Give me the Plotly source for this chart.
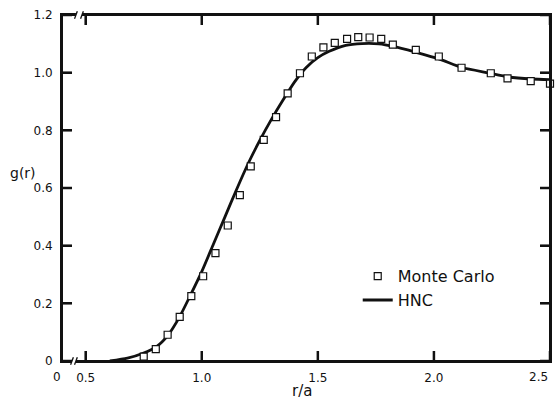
import plotly.graph_objects as go

# Monte Carlo data (r/a, g(r))
mc_r = [0.750, 0.802, 0.853, 0.905, 0.955, 1.006, 1.059, 1.112, 1.164, 1.211,
        1.267, 1.320, 1.370, 1.423, 1.474, 1.524, 1.573, 1.626, 1.674, 1.723,
        1.773, 1.823, 1.922, 2.021, 2.119, 2.245, 2.317, 2.417, 2.500]
mc_g = [0.015, 0.041, 0.091, 0.153, 0.225, 0.294, 0.374, 0.470, 0.575, 0.675,
        0.767, 0.846, 0.928, 0.998, 1.056, 1.088, 1.103, 1.117, 1.123, 1.122,
        1.117, 1.097, 1.079, 1.056, 1.017, 0.998, 0.980, 0.971, 0.962]

# HNC curve
hnc_r = [0.604, 0.680, 0.747, 0.805, 0.855, 0.905, 0.948, 1.000, 1.050, 1.100,
         1.150, 1.200, 1.250, 1.300, 1.350, 1.400, 1.450, 1.500, 1.549, 1.620,
         1.691, 1.763, 1.827, 1.921, 2.021, 2.121, 2.235, 2.321, 2.421, 2.500]
hnc_g = [0.000, 0.010, 0.027, 0.050, 0.090, 0.154, 0.223, 0.310, 0.405, 0.500,
         0.595, 0.685, 0.765, 0.838, 0.905, 0.968, 1.018, 1.052, 1.074, 1.095,
         1.101, 1.100, 1.091, 1.071, 1.048, 1.018, 0.999, 0.985, 0.978, 0.976]

x_ticks = [0.5, 1.0, 1.5, 2.0, 2.5]
x_ticktext = ["0.5", "1.0", "1.5", "2.0", ""]   # "2.5" drawn right-aligned below
x_last_label = "2.5"
y_ticks = [0, 0.2, 0.4, 0.6, 0.8, 1.0, 1.2]
y_ticktext = ["0", "0.2", "0.4", "0.6", "0.8", "1.0", "1.2"]

X_MIN, X_MAX = 0.398, 2.5
FONT = "DejaVu Sans"
INK = "#111111"
W, H = 558, 400
ML, MR, MT, MB = 62, 6, 15, 39
PW, PH = W - ML - MR, H - MT - MB
TICK = 10

fig = go.Figure()
fig.add_trace(go.Scatter(
    x=hnc_r, y=hnc_g, mode="lines", name="HNC", legendrank=2,
    line=dict(color=INK, width=2.8, shape="spline", smoothing=0.6),
    cliponaxis=False,
))
fig.add_trace(go.Scatter(
    x=mc_r, y=mc_g, mode="markers", name="Monte Carlo", legendrank=1,
    marker=dict(symbol="square", size=7, color="white",
                line=dict(color=INK, width=1.2)),
    cliponaxis=False,
))

axis_common = dict(
    showgrid=False, zeroline=False, showline=True, linecolor=INK, linewidth=2,
    mirror="allticks", ticks="inside", ticklen=TICK, tickwidth=2, tickcolor=INK,
    tickfont=dict(family=FONT, size=12, color=INK),
)
fig.update_xaxes(range=[X_MIN, X_MAX], tickvals=x_ticks, ticktext=x_ticktext,
                 ticklabelstandoff=5, **axis_common)
fig.update_yaxes(range=[0, 1.2], tickvals=y_ticks, ticktext=y_ticktext,
                 ticklabelstandoff=5, **axis_common)

# frame (in case mirrored axis lines are not drawn)
shapes = [dict(type="rect", xref="paper", yref="paper", x0=0, x1=1, y0=0, y1=1,
               line=dict(color=INK, width=2), layer="above")]
# tick marks on all four sides, at the axis tick values
for xv in x_ticks:
    shapes.append(dict(type="line", xref="x", yref="paper", x0=xv, x1=xv,
                       y0=0, y1=TICK / PH, line=dict(color=INK, width=2.5),
                       layer="above"))
    shapes.append(dict(type="line", xref="x", yref="paper", x0=xv, x1=xv,
                       y0=1 - TICK / PH, y1=1, line=dict(color=INK, width=2.5),
                       layer="above"))
for yv in y_ticks:
    shapes.append(dict(type="line", xref="paper", yref="y", x0=0, x1=TICK / PW,
                       y0=yv, y1=yv, line=dict(color=INK, width=2.5),
                       layer="above"))
    shapes.append(dict(type="line", xref="paper", yref="y", x0=1 - TICK / PW,
                       x1=1, y0=yv, y1=yv, line=dict(color=INK, width=2.5),
                       layer="above"))
# axis breaks (white gap + slashes) on top and bottom lines
for yp, (g0, g1) in [(1.0, (0.458, 0.484)), (0.0, (0.441, 0.458))]:
    shapes.append(dict(type="line", xref="x", yref="paper", x0=g0, x1=g1,
                       y0=yp, y1=yp, line=dict(color="white", width=5),
                       layer="above"))
    for gx in (g0, g1):
        shapes.append(dict(type="line", xref="x", yref="paper",
                           x0=gx - 0.006, x1=gx + 0.006, y0=yp - 0.011,
                           y1=yp + 0.011, line=dict(color=INK, width=1.3),
                           layer="above"))

annotations = [
    dict(text="0", xref="paper", yref="paper", x=-0.0102, y=0, yshift=-16,
         xanchor="center", yanchor="middle", showarrow=False,
         font=dict(family=FONT, size=12, color=INK)),
    dict(text=x_last_label, xref="paper", yref="paper", x=1.0, y=0, yshift=-16,
         xanchor="right", yanchor="middle", showarrow=False,
         font=dict(family=FONT, size=12, color=INK)),
    dict(text="g(r)", xref="paper", yref="y", x=-0.110, y=0.653,
         xanchor="left", yanchor="middle", showarrow=False,
         font=dict(family=FONT, size=14, color=INK)),
    dict(text="r/a", xref="paper", yref="paper", x=0.492, y=0, yshift=-30,
         xanchor="center", yanchor="middle", showarrow=False,
         font=dict(family=FONT, size=15, color=INK)),
]

fig.update_layout(
    width=W, height=H,
    margin=dict(l=ML, r=MR, t=MT, b=MB),
    paper_bgcolor="white", plot_bgcolor="white",
    shapes=shapes, annotations=annotations,
    showlegend=True,
    legend=dict(x=0.606, y=0.294, xanchor="left", yanchor="top",
                bgcolor="rgba(0,0,0,0)",
                font=dict(family=FONT, size=16, color=INK)),
)

fig.write_html("out.html",
               config={"staticPlot": True, "displayModeBar": False},
               post_script="document.body.style.margin='0px';"
                           "document.body.style.overflow='hidden';")
